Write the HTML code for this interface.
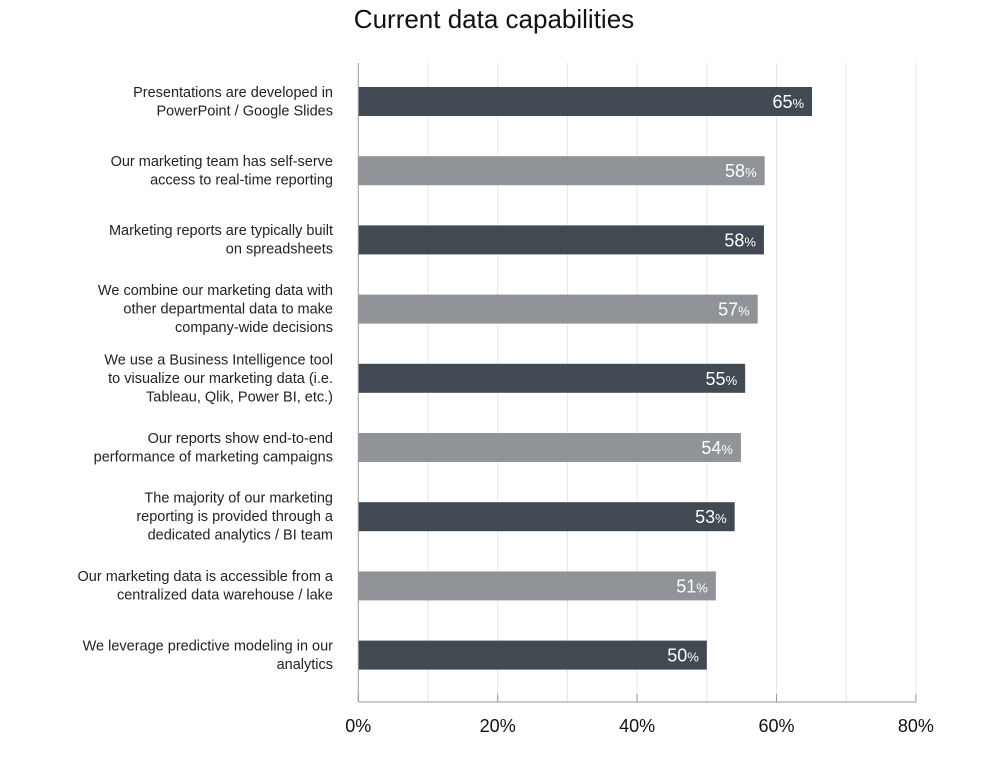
<!DOCTYPE html>
<html><head><meta charset="utf-8"><style>
body{margin:0;background:#fff;width:989px;height:755px;overflow:hidden;font-family:"Liberation Sans",sans-serif}
</style></head><body>
<svg width="989" height="755" id="c">
<text x="494" y="28" text-anchor="middle" font-size="26" fill="#111">Current data capabilities</text>
</svg>
<script>
const categories=[
["Presentations are developed in","PowerPoint / Google Slides"],
["Our marketing team has self-serve","access to real-time reporting"],
["Marketing reports are typically built","on spreadsheets"],
["We combine our marketing data with","other departmental data to make","company-wide decisions"],
["We use a Business Intelligence tool","to visualize our marketing data (i.e.","Tableau, Qlik, Power BI, etc.)"],
["Our reports show end-to-end","performance of marketing campaigns"],
["The majority of our marketing","reporting is provided through a","dedicated analytics / BI team"],
["Our marketing data is accessible from a","centralized data warehouse / lake"],
["We leverage predictive modeling in our","analytics"]];
const values=[65.1,58.3,58.2,57.3,55.5,54.9,54.0,51.3,50.0];
const printed=[65,58,58,57,55,54,53,51,50];
const ticks=[0,20,40,60,80];
const NS="http://www.w3.org/2000/svg",svg=document.getElementById('c');
const x=v=>358.3+v*6.97, y=i=>101+i*69.2;
function mk(t,a,p){const e=document.createElementNS(NS,t);for(const k in a)e.setAttribute(k,a[k]);(p||svg).appendChild(e);return e;}
for(let g=10;g<=80;g+=10){const l=mk('line',{x1:x(g),x2:x(g),y1:63,y2:702,stroke:'#e6e6e6','stroke-width':1});

}
values.forEach((v,i)=>{
const r=mk('rect',{x:x(0),y:y(i)-14,width:x(v)-x(0),height:29,fill:i%2?'#909498':'#414a52'});


const t=mk('text',{x:x(v)-8,y:y(i)+7,'text-anchor':'end',fill:'#fff','font-size':18});


t.innerHTML=printed[i]+'<tspan font-size="13">%</tspan>';
const L=categories[i],lh=18.5,t0=y(i)-(L.length-1)*lh/2+5;
const c=mk('text',{x:333,'text-anchor':'end','font-size':14.5,fill:'#222'});


L.forEach((s,j)=>{mk('tspan',{x:333,y:t0+j*lh},c).textContent=s;});
});
const ax=mk('line',{x1:x(0),x2:x(0),y1:63,y2:702,stroke:'#999'});


const bx=mk('line',{x1:x(0),x2:x(80),y1:702,y2:702,stroke:'#999'});


ticks.forEach(tk=>{
const m=mk('line',{x1:x(tk),x2:x(tk),y1:694,y2:702,stroke:'#999'});


const t=mk('text',{x:x(tk),y:732,'text-anchor':'middle','font-size':18,fill:'#111'});


t.textContent=tk+'%';});
</script>
</body></html>
